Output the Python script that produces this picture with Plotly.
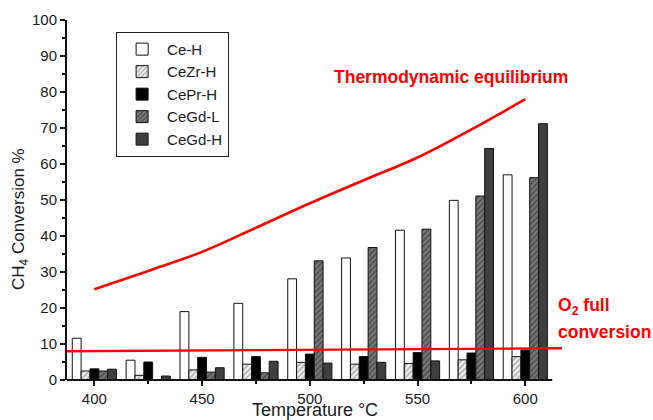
import plotly.graph_objects as go

# Reaction temperatures (°C) for each group of bars
temperature = [400, 425, 450, 475, 500, 525, 550, 575, 600]

# CH4 conversion (%) for each catalyst
ce_h = [11.6, 5.5, 19.0, 21.3, 28.1, 33.9, 41.6, 49.9, 57.0]
cezr_h = [2.5, 1.3, 2.8, 4.4, 4.9, 4.4, 4.6, 5.6, 6.5]
cepr_h = [3.1, 5.0, 6.3, 6.5, 7.2, 6.5, 7.6, 7.5, 8.3]
cegd_l = [2.5, None, 2.2, 2.0, 33.1, 36.8, 41.9, 51.1, 56.2]
cegd_h = [3.0, 1.1, 3.4, 5.2, 4.7, 4.9, 5.3, 64.3, 71.2]

# Thermodynamic equilibrium curve
eq_temperature = [400, 425, 450, 475, 500, 525, 550, 575, 600]
eq_conversion = [25.2, 30.3, 35.6, 42.3, 49.1, 55.5, 61.8, 69.6, 78.0]

# Conversion level at full O2 consumption
o2_temperature = [385.5, 617.0]
o2_conversion = [8.0, 8.8]

FONT = "Liberation Sans, Arial, sans-serif"
X_MIN, X_MAX = 387.3, 617.5
AXIS_END = 612.5
L, R, T, B = 67, 90, 20, 40
W, H = 653, 420

fig = go.Figure()

series = [
    ("Ce-H", ce_h, dict(color="white")),
    ("CeZr-H", cezr_h, dict(color="white", pattern=dict(shape="/", fgcolor="#6e6e6e",
                                                          bgcolor="#f2f2f2", size=4, solidity=0.45))),
    ("CePr-H", cepr_h, dict(color="black")),
    ("CeGd-L", cegd_l, dict(color="#6a6a6a", pattern=dict(shape="/", fgcolor="#222222",
                                                           bgcolor="#7a7a7a", size=4, solidity=0.45))),
    ("CeGd-H", cegd_h, dict(color="#3f3f3f")),
]

for name, values, marker in series:
    marker = dict(marker)
    marker["line"] = dict(color="#111111", width=1)
    fig.add_trace(go.Bar(x=temperature, y=values, name=name, marker=marker))

fig.add_trace(go.Scatter(x=eq_temperature, y=eq_conversion, mode="lines",
                         line=dict(color="#ff0000", width=2.6, shape="spline", smoothing=1.0),
                         showlegend=False, hoverinfo="skip"))
fig.add_trace(go.Scatter(x=o2_temperature, y=o2_conversion, mode="lines",
                         line=dict(color="#ff0000", width=2.4),
                         showlegend=False, hoverinfo="skip"))

red_font = dict(family=FONT, size=17.5, color="#ff0000")
fig.add_annotation(x=565.5, y=84.2, xref="x", yref="y", showarrow=False,
                   text="<b>Thermodynamic equilibrium</b>", font=red_font,
                   xanchor="center", yanchor="middle")
fig.add_annotation(x=614.2, y=20.4, xref="x", yref="y", showarrow=False,
                   text="<b>O<sub>2</sub> full</b>", font=red_font,
                   xanchor="left", yanchor="middle")
fig.add_annotation(x=614.2, y=13.4, xref="x", yref="y", showarrow=False,
                   text="<b>conversion</b>", font=red_font,
                   xanchor="left", yanchor="middle")

# y-axis title
fig.add_annotation(x=(20 - L) / (W - L - R), y=(H - B - 219) / (H - T - B),
                   xref="paper", yref="paper", showarrow=False, textangle=-90,
                   text="CH<sub>4</sub> Conversion %",
                   font=dict(family=FONT, size=17, color="#1a1a1a"),
                   xanchor="center", yanchor="middle")

# bottom axis line stops short of the plotting range
fig.add_shape(type="line", xref="paper", yref="paper",
              x0=0, x1=(AXIS_END - X_MIN) / (X_MAX - X_MIN), y0=0, y1=0,
              line=dict(color="#111111", width=2))

fig.update_layout(
    width=W, height=H,
    margin=dict(l=L, r=R, t=T, b=B),
    paper_bgcolor="white", plot_bgcolor="white",
    barmode="group", bargap=0.18, bargroupgap=0,
    font=dict(family=FONT, size=14, color="#1a1a1a"),
    legend=dict(x=0.099, y=0.967, xanchor="left", yanchor="top",
                bordercolor="#222222", borderwidth=1, bgcolor="white",
                font=dict(family=FONT, size=15, color="#1a1a1a"),
                tracegroupgap=0, itemwidth=40),
    xaxis=dict(range=[X_MIN, X_MAX], automargin=False, showline=False, showgrid=False,
               zeroline=False, tickmode="array", tickvals=[400, 450, 500, 550, 600],
               ticks="outside", ticklen=5, tickwidth=1.5, tickcolor="#111111",
               minor=dict(tickvals=[425, 475, 525, 575], ticks="outside", ticklen=3,
                          tickwidth=1.5, tickcolor="#111111"),
               tickfont=dict(size=15),
               title=dict(text="Temperature °C", font=dict(size=18))),
    yaxis=dict(range=[0, 100], automargin=False, showline=True, linecolor="#111111",
               linewidth=2, showgrid=False, zeroline=False, dtick=10,
               ticks="outside", ticklen=5, tickwidth=1.5, tickcolor="#111111",
               minor=dict(dtick=5, ticks="outside", ticklen=3, tickwidth=1.5,
                          tickcolor="#111111"),
               tickfont=dict(size=15)),
)

fig.write_html("out.html")
